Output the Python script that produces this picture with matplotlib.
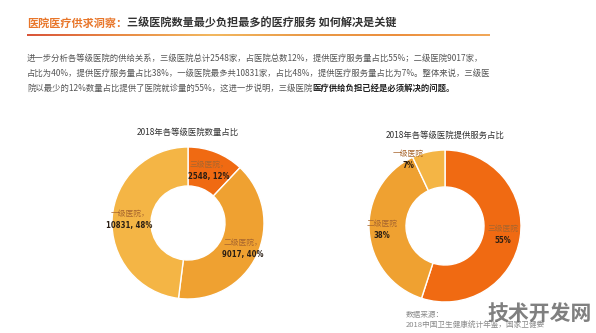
import numpy as np
import matplotlib.pyplot as plt
from matplotlib.colors import LinearSegmentedColormap

plt.rcParams['font.family'] = ['Noto Sans CJK SC', 'DejaVu Sans']

# data
levels = ['三级医院', '二级医院', '一级医院']
hosp_counts = [2548, 9017, 10831]
hosp_share = [12, 40, 48]
service_share = [55, 38, 7]
colors = ['#F06A12', '#EFA131', '#F4B545']

W, H = 596, 333
fig = plt.figure(figsize=(W / 100, H / 100), dpi=100)

# invisible full-figure axes used for annotations
base = fig.add_axes([0, 0, 1, 1])
base.axis('off')


def px(x, y):
    return x / W, 1 - y / H


# header
t = fig.text(*px(27, 23), '医院医疗供求洞察：', color='#E8762A', fontsize=8,
             fontweight='bold', va='center', ha='left')
base.annotate('三级医院数量最少负担最多的医疗服务 如何解决是关键', xy=(1, 0.5),
              xycoords=t, va='center', ha='left', color='#333333',
              fontsize=8, fontweight='bold', annotation_clip=False)

# gradient bar under header
bar_ax = fig.add_axes([27 / W, 1 - 36 / H, (490 - 27) / W, 2.2 / H])
cmap = LinearSegmentedColormap.from_list(
    'bar', ['#D9553A', '#E88A45', '#F2B860', '#E99A48', '#EC8F3E', '#F1A85A'])
bar_ax.imshow(np.linspace(0, 1, 256)[None, :], aspect='auto', cmap=cmap)
bar_ax.axis('off')

# body text
body = [
    '进一步分析各等级医院的供给关系，三级医院总计2548家，占医院总数12%，提供医疗服务量占比55%；二级医院9017家，',
    '占比为40%，提供医疗服务量占比38%，一级医院最多共10831家，占比48%，提供医疗服务量占比为7%。整体来说，三级医',
    '院以最少的12%数量占比提供了医院就诊量的55%，这进一步说明，三级医院',
]
for i, line in enumerate(body):
    bt = fig.text(*px(27, 58 + 15 * i), line, color='#555555', fontsize=6,
                  va='center', ha='left')
base.annotate('医疗供给负担已经是必须解决的问题。', xy=(1, 0.5), xycoords=bt,
              va='center', ha='left', color='#222222', fontsize=6,
              fontweight='bold', annotation_clip=False)


def donut(cx, cy, r_out, r_in, values, title, labels, dists, angle_adj):
    half = 82
    ax = fig.add_axes([(cx - half) / W, 1 - (cy + half) / H, 2 * half / W, 2 * half / H])
    R = r_out / half
    wedges, _ = ax.pie(values, colors=colors, startangle=90, counterclock=False,
                       radius=R, wedgeprops=dict(width=(r_out - r_in) / half,
                                                 edgecolor='white', linewidth=1))
    ax.set_xlim(-1, 1)
    ax.set_ylim(-1, 1)
    ax.set_aspect('equal')
    ax.axis('off')
    for w, lab, d, adj in zip(wedges, labels, dists, angle_adj):
        ang = np.deg2rad((w.theta1 + w.theta2) / 2 + adj)
        x, y = d * R * np.cos(ang), d * R * np.sin(ang)
        ax.text(x, y + 0.07, lab[0], ha='center', va='center', fontsize=5.6,
                color='#A8662E')
        ax.text(x, y - 0.07, lab[1], ha='center', va='center', fontsize=5.6,
                color='#2A1E14', fontweight='bold', family='DejaVu Sans',
                stretch='condensed')
    fig.text(cx / W, 1 - (cy - 91) / H, title, ha='center', va='center',
             fontsize=6, color='#333333')


left_labels = [(n + '，', f'{c}, {s}%') for n, c, s in zip(levels, hosp_counts, hosp_share)]
donut(188, 223, 76, 37, hosp_share, '2018年各等级医院数量占比', left_labels,
      [0.74, 0.8, 0.77], [0, 0, 0])

right_labels = [(n, f'{s}%') for n, s in zip(levels, service_share)]
donut(445, 226, 76, 39, service_share, '2018年各等级医院提供服务占比', right_labels,
      [0.77, 0.83, 1.0], [0, 0, 16])

# source and watermark
fig.text(*px(406, 315), '数据来源：', color='#8A8A8A', fontsize=5.5, va='center')
fig.text(*px(406, 326), '2018中国卫生健康统计年鉴，国家卫健委', color='#8A8A8A',
         fontsize=5.5, va='center')
fig.text(*px(487, 313), '技术开发网', color='#555555', alpha=0.75, fontsize=15,
         fontweight='bold', va='center')

fig.savefig('out.png', dpi=100)
